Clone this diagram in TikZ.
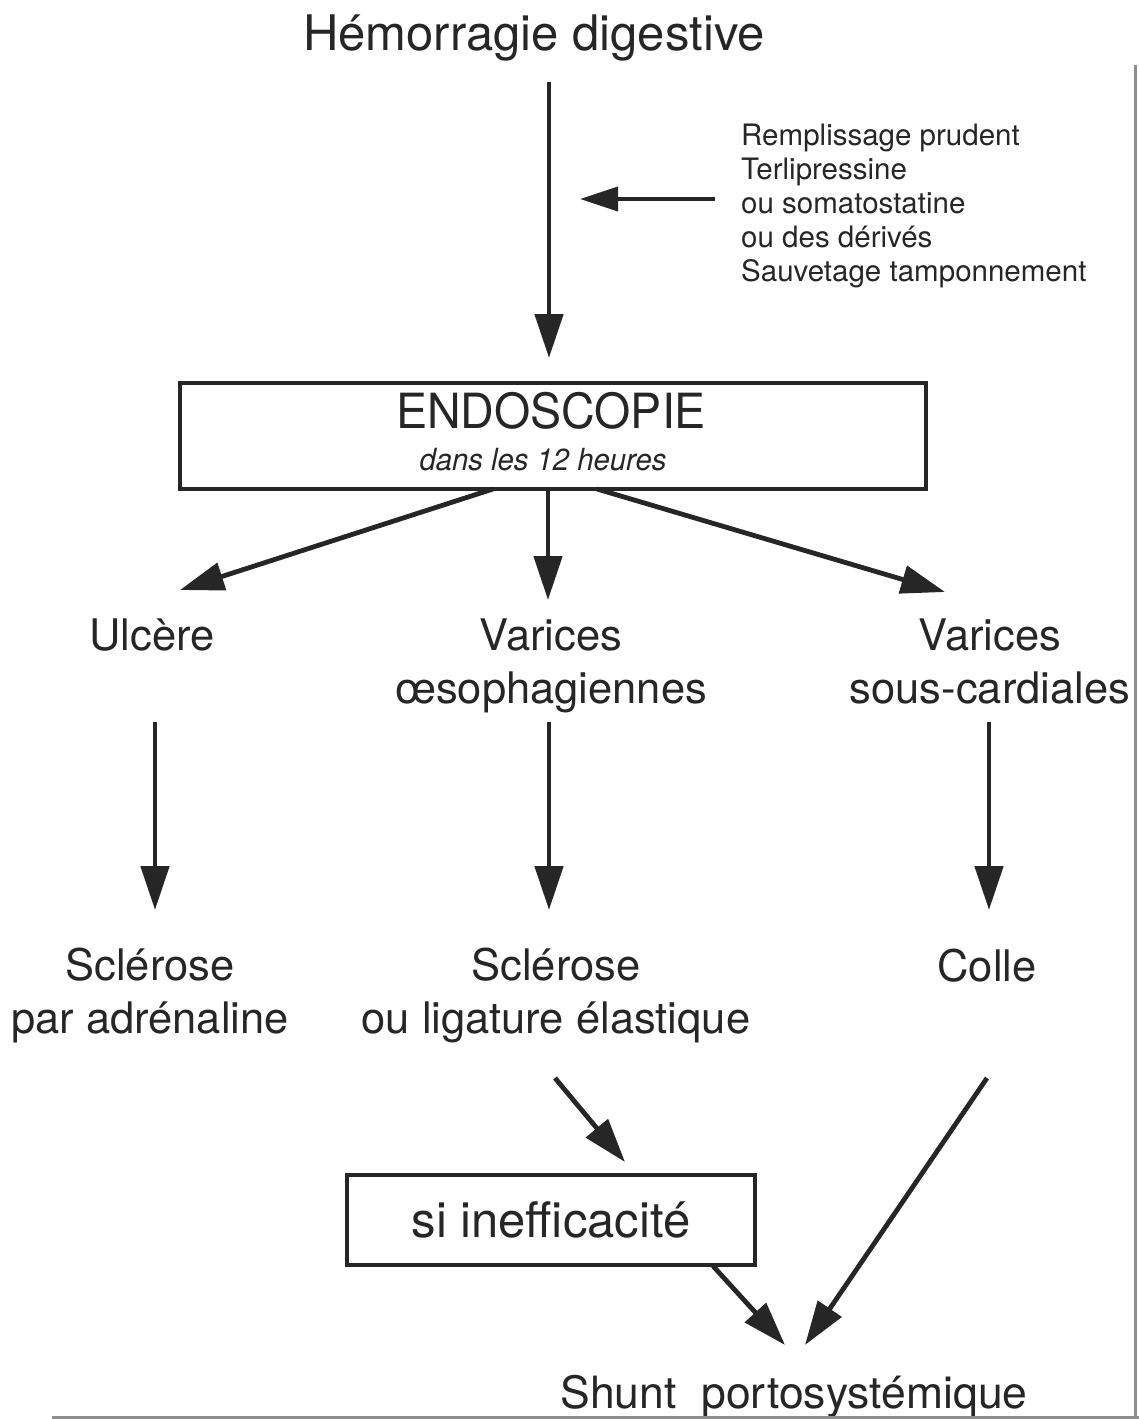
\documentclass[tikz,border=0pt]{standalone}
\usepackage{fontspec}
\setmainfont{TeX Gyre Heros}
\newfontfamily\condfont[FakeStretch=0.96]{TeX Gyre Heros}
\usetikzlibrary{arrows.meta}
\definecolor{ink}{HTML}{262626}
\definecolor{framegray}{HTML}{8E8E8E}
\begin{document}
\begin{tikzpicture}[x=1pt,y=-1pt,
  every node/.style={inner sep=0pt, text=ink},
  lbl/.style={font=\fontsize{43.5}{53}\selectfont, align=center},
  big/.style={font=\fontsize{43.5}{53}\selectfont},
  arr/.style={draw=ink, line width=4.8pt, -{Triangle[length=44pt,width=28pt]}},
  sidearr/.style={draw=ink, line width=4pt, -{Triangle[length=38pt,width=24pt]}},
  boxst/.style={draw=ink, line width=4pt, fill=white},
]
\fill[white] (0,0) rectangle (1139,1419);
\useasboundingbox (0,0) rectangle (1139,1419);

% texts
\node (title) [anchor=base, font=\fontsize{49}{58}\selectfont] at (534,50) {Hémorragie digestive};
\node (trt) [anchor=north west, align=left, font=\fontsize{29.5}{34}\selectfont] at (741,124)
  {Remplissage prudent\\Terlipressine\\ou somatostatine\\ou des dérivés\\Sauvetage tamponnement};

\node (endo) [boxst, minimum width=746pt, minimum height=106pt] at (553,436) {};
\node (endot) [anchor=base, font=\condfont\fontsize{48.5}{56}\selectfont] at (551,428) {ENDOSCOPIE};
\node (endos) [anchor=base, font=\condfont\itshape\fontsize{30.5}{36}\selectfont] at (543,470) {dans les 12 heures};

\node (ulc) [big, anchor=base] at (152,650) {Ulcère};
\node (vo) [lbl, anchor=north] at (551,619) {Varices\\œsophagiennes};
\node (vsc) [lbl, anchor=north] at (990,619) {Varices\\sous-cardiales};

\node (scl1) [lbl, anchor=north] at (150,948) {Sclérose\\par adrénaline};
\node (scl2) [lbl, anchor=north] at (556,948) {Sclérose\\ou ligature élastique};
\node (colle) [big, anchor=base] at (987,981) {Colle};

\node (sib) [boxst, minimum width=408pt, minimum height=90pt] at (551,1220) {};
\node (sit) [anchor=base, font=\fontsize{49}{56}\selectfont] at (551,1237) {si inefficacité};

\node (shunt) [anchor=base, font=\fontsize{44.5}{52}\selectfont] at (794,1408) {Shunt\ \ portosystémique};

% connector end points
\coordinate (a1) at (549,82);   \coordinate (a1e) at (549,358);
\coordinate (s1) at (715,199);  \coordinate (s1e) at (580,199);
\coordinate (e1) at (493,489);  \coordinate (e1e) at (180,590);
\coordinate (e2) at (548,489);  \coordinate (e2e) at (548,600);
\coordinate (e3) at (597,489);  \coordinate (e3e) at (945,592);
\coordinate (u1) at (155,722);  \coordinate (u1e) at (155,910);
\coordinate (v1) at (549,722);  \coordinate (v1e) at (549,910);
\coordinate (c1) at (989,722);  \coordinate (c1e) at (989,910);
\coordinate (l1) at (555,1078); \coordinate (l1e) at (625,1162);
\coordinate (b1) at (713,1266); \coordinate (b1e) at (785,1345);
\coordinate (k1) at (987,1078); \coordinate (k1e) at (805,1345);

\draw[arr] (a1) -- (a1e);
\draw[sidearr] (s1) -- (s1e);
\draw[arr] (e1) -- (e1e);
\draw[arr] (e2) -- (e2e);
\draw[arr] (e3) -- (e3e);
\draw[arr] (u1) -- (u1e);
\draw[arr] (v1) -- (v1e);
\draw[arr] (c1) -- (c1e);
\draw[arr] (l1) -- (l1e);
\draw[arr] (b1) -- (b1e);
\draw[arr] (k1) -- (k1e);

% scan frame edges
\draw[framegray, line width=3pt] (1135,65) -- (1135,1419);
\draw[framegray, line width=2.5pt] (52,1417.5) -- (1139,1417.5);
\end{tikzpicture}
\end{document}
